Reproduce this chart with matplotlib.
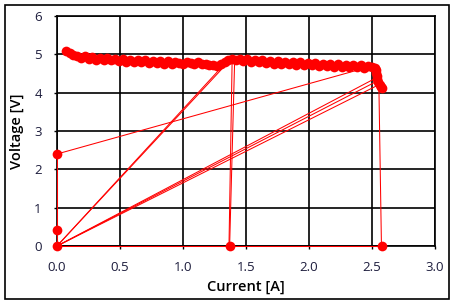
import matplotlib.pyplot as plt
from matplotlib.patches import Rectangle

# main sweep (current [A], voltage [V])
sweep_i = [0.07, 0.10, 0.13, 0.16, 0.19, 0.22, 0.25, 0.28, 0.31, 0.34, 0.37, 0.40,
           0.43, 0.46, 0.49, 0.52, 0.55, 0.58, 0.61, 0.64, 0.67, 0.70, 0.73, 0.76,
           0.79, 0.82, 0.85, 0.88, 0.91, 0.94, 0.97, 1.00, 1.03, 1.06, 1.09, 1.12,
           1.15, 1.18, 1.21, 1.24, 1.27, 1.30, 1.33, 1.36, 1.39, 1.42, 1.45, 1.48,
           1.51, 1.54, 1.57, 1.60, 1.63, 1.66, 1.69, 1.72, 1.75, 1.78, 1.81, 1.84,
           1.87, 1.90, 1.93, 1.96, 1.99, 2.02, 2.05, 2.08, 2.11, 2.14, 2.17, 2.20,
           2.23, 2.26, 2.29, 2.32, 2.35, 2.38, 2.41, 2.44, 2.47, 2.50, 2.52, 2.53,
           2.53, 2.54, 2.54, 2.55, 2.56, 2.57, 2.58]
sweep_v = [5.09, 5.03, 4.99, 4.95, 4.91, 4.96, 4.88, 4.93, 4.86, 4.91, 4.85, 4.90,
           4.84, 4.89, 4.83, 4.88, 4.81, 4.86, 4.80, 4.85, 4.79, 4.84, 4.78, 4.83,
           4.77, 4.82, 4.76, 4.82, 4.76, 4.81, 4.77, 4.75, 4.81, 4.78, 4.75, 4.80,
           4.76, 4.75, 4.72, 4.72, 4.70, 4.74, 4.80, 4.85, 4.89, 4.84, 4.89, 4.83,
           4.87, 4.81, 4.86, 4.80, 4.84, 4.78, 4.83, 4.76, 4.82, 4.75, 4.81, 4.74,
           4.80, 4.73, 4.79, 4.72, 4.78, 4.71, 4.77, 4.70, 4.76, 4.69, 4.75, 4.68,
           4.74, 4.67, 4.73, 4.66, 4.72, 4.66, 4.71, 4.65, 4.70, 4.67, 4.65, 4.60,
           4.52, 4.44, 4.36, 4.28, 4.20, 4.14, 4.11]

# isolated points near zero
zero_i = [0.0, 0.0, 0.0, 1.37, 2.58]
zero_v = [0.0, 0.42, 2.40, 0.0, 0.0]

# connecting lines between readings (start -> end)
conn_i0 = [0.0, 0.0, 0.0, 0.0, 0.0, 0.0, 0.0, 0.0, 1.365, 1.37, 2.575]
conn_v0 = [0.0, 0.0, 2.40, 0.0, 0.0, 0.0, 0.0, 0.0, 0.0, 0.0, 0.0]
conn_i1 = [2.58, 0.0, 2.42, 1.33, 1.36, 2.53, 2.54, 2.55, 1.39, 1.41, 2.555]
conn_v1 = [0.0, 2.40, 4.62, 4.75, 4.80, 4.38, 4.30, 4.20, 4.85, 4.85, 4.11]

xticks = [0.0, 0.5, 1.0, 1.5, 2.0, 2.5, 3.0]
yticks = [0, 1, 2, 3, 4, 5, 6]

plt.rcParams['font.family'] = ['Open Sans', 'DejaVu Sans']
fig = plt.figure(figsize=[4.57, 3.06], dpi=100)
ax = fig.add_axes([57/457, 60/306, 378/457, 230/306])

red = '#ff0000'
for a, b, c, d in zip(conn_i0, conn_v0, conn_i1, conn_v1):
    ax.plot([a, c], [b, d], color=red, lw=0.75, zorder=3, clip_on=False)
ax.plot(sweep_i, sweep_v, color=red, lw=0.8, marker='o', ms=7, mew=0,
        zorder=4, clip_on=False)
ax.plot(zero_i, zero_v, ls='none', color=red, marker='o', ms=7, mew=0,
        zorder=4, clip_on=False)

ax.set_xlim(0, 3.0)
ax.set_ylim(0, 6)
ax.set_xticks(xticks)
ax.set_xticklabels([f"{t:.1f}" for t in xticks])
ax.set_yticks(yticks)
ax.set_yticklabels([str(t) for t in yticks])
ax.grid(True, color='black', lw=1.2)
ax.set_axisbelow(True)
for s in ax.spines.values():
    s.set_color('black')
    s.set_linewidth(1.2)
ax.tick_params(axis='both', length=2, width=1, color='black', pad=9,
               labelsize=9.5, labelcolor='#1c1c3c')
ax.set_xlabel('Current [A]', fontsize=10.5, fontweight='semibold', labelpad=4)
ax.set_ylabel('Voltage [V]', fontsize=10.5, fontweight='semibold', labelpad=7)

fig.patches.append(Rectangle((5/457, 7/306), 444/457, 294/306, transform=fig.transFigure,
                             fill=False, edgecolor='black', lw=1.2))
fig.savefig('out.png', dpi=100)
